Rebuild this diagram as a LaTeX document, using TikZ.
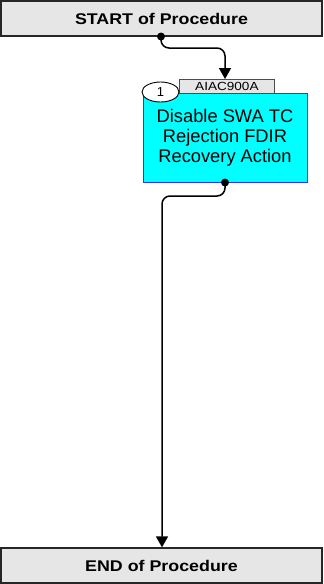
\documentclass[tikz,border=0pt]{standalone}
\usepackage{fontspec}
\setmainfont{Liberation Sans}
\newfontfamily\widefont[FakeStretch=1.15]{Liberation Sans}
\newfontfamily\tagfont[FakeStretch=1.15]{Liberation Sans}
\usetikzlibrary{arrows.meta,shapes.geometric}
\definecolor{boxgray}{HTML}{E6E6E6}
\definecolor{aqua}{HTML}{00FFFF}
\definecolor{edgeblue}{HTML}{3333FF}
\tikzset{
  termbox/.style={draw=black!85,fill=boxgray,line width=1.3pt,minimum width=321pt,minimum height=35pt,inner sep=0pt,font=\widefont\fontsize{15.5}{18}\selectfont\bfseries},
  actbox/.style={draw=edgeblue,fill=aqua,line width=0.8pt,minimum width=164pt,minimum height=89pt,inner sep=0pt,align=center,font=\fontsize{18.3}{20}\selectfont},
  tagbox/.style={draw=black!70,fill=boxgray,line width=0.8pt,minimum width=95pt,minimum height=14pt,inner sep=0pt,font=\tagfont\fontsize{11.8}{13}\selectfont},
  numell/.style={draw=black,fill=white,ellipse,line width=0.9pt,minimum width=37pt,minimum height=20pt,inner sep=0pt,font=\fontsize{13}{14}\selectfont},
  conn/.style={line width=1.5pt,rounded corners=8pt,-{Triangle[width=12pt,length=11pt]}},
  dotm/.style={circle,fill=black,inner sep=0pt,minimum size=8pt}
}
\begin{document}
\begin{tikzpicture}[x=1pt,y=-1pt]
\useasboundingbox (0,0) rectangle (324,584);
\node[termbox] (start) at (161.5,18.5) {START of Procedure};
\node[termbox] (end) at (161.5,565.5) {END of Procedure};
\node[actbox] (act) at (225,138) {Disable SWA TC\\Rejection FDIR\\Recovery Action};
\node[tagbox,anchor=south west] (tag) at (179,93.5) {AIAC900A};
\node[numell] (num) at (160.5,92) {1};
\coordinate (d1) at (161,36.5);
\coordinate (d2) at (225,182.5);
\draw[conn] (d1) -- (161,48) -- (225,48) -- (225,79);
\draw[conn] (d2) -- (225,196) -- (162,196) -- (end.north -| 162,0);
\node[dotm] (p1) at (d1) {};
\node[dotm] (p2) at (d2) {};
\end{tikzpicture}
\end{document}
